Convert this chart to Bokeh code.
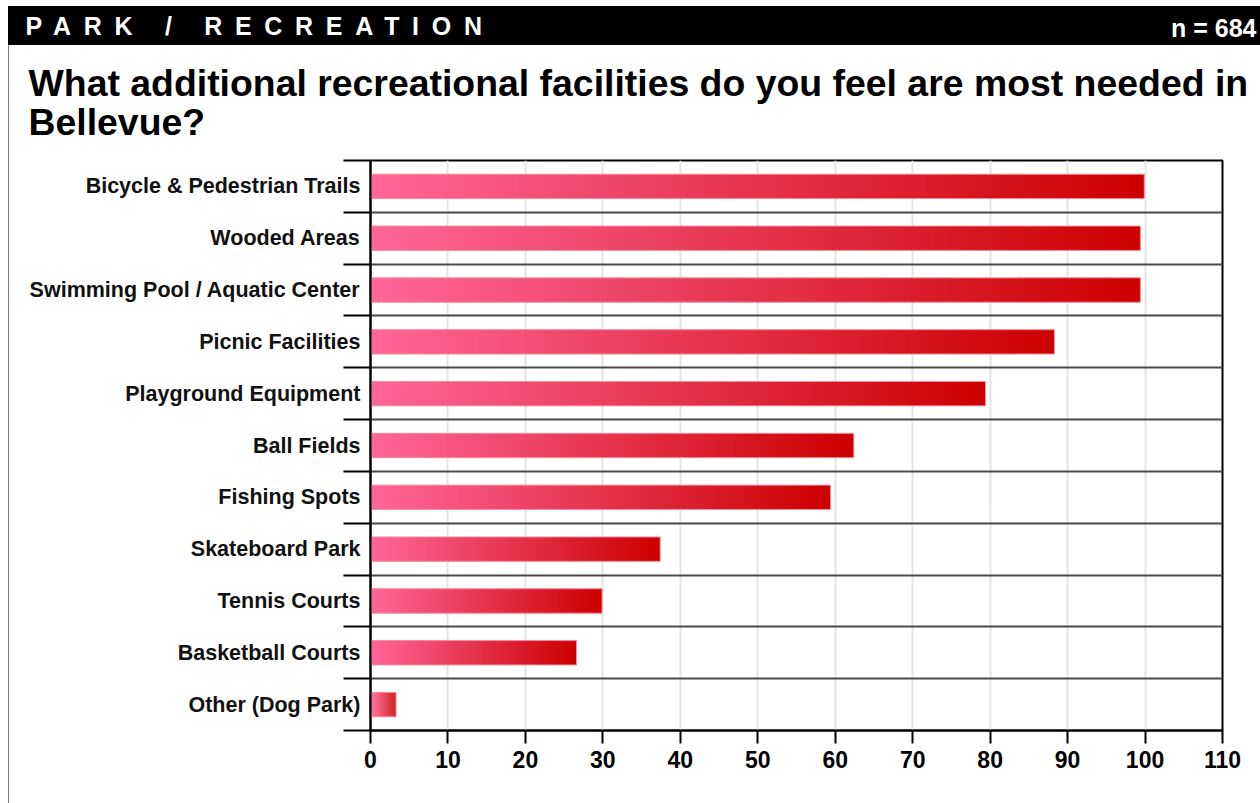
import numpy as np
from bokeh.plotting import figure
from bokeh.layouts import column, row
from bokeh.models import Range1d, FixedTicker, InlineStyleSheet
from bokeh.core.properties import value
from bokeh.embed import file_html
from bokeh.resources import INLINE

# ---------------- data ----------------
section_title = "PARK / RECREATION"
sample_label = "n = 684"
question_lines = [
    "What additional recreational facilities do you feel are most needed in",
    "Bellevue?",
]
categories = [
    "Bicycle & Pedestrian Trails",
    "Wooded Areas",
    "Swimming Pool / Aquatic Center",
    "Picnic Facilities",
    "Playground Equipment",
    "Ball Fields",
    "Fishing Spots",
    "Skateboard Park",
    "Tennis Courts",
    "Basketball Courts",
    "Other (Dog Park)",
]
values = [99.9, 99.4, 99.4, 88.3, 79.4, 62.4, 59.4, 37.4, 29.9, 26.6, 3.3]
x_ticks = [0, 10, 20, 30, 40, 50, 60, 70, 80, 90, 100, 110]

# ---------------- style ----------------
FONT = "Liberation Sans"
W = 1252
HDR_H = 39
TITLE_H = 112
MAIN_H = 797 - HDR_H - TITLE_H
HDR_SPLIT = 800
GRAD_START = np.array([255, 102, 153])
GRAD_END = np.array([204, 0, 0])
BAR_H = 0.47
N_SLICES = 120

left_border_css = InlineStyleSheet(css=":host { box-shadow: inset 1px 0 0 #7a7a7a; }")


def bare(width, height, xr, yr, bg):
    f = figure(width=width, height=height, x_range=xr, y_range=yr,
               output_backend="svg", toolbar_location=None,
               x_axis_location=None, y_axis_location=None,
               min_border=0, outline_line_color=None,
               background_fill_color=bg, border_fill_color=bg)
    f.grid.visible = False
    return f


# ---------------- header bar ----------------
hdr_l = bare(HDR_SPLIT, HDR_H, Range1d(0, HDR_SPLIT), Range1d(HDR_H, 0), "black")
hdr_l.styles = {"letter-spacing": "12.7px"}
hdr_l.text(x=[17], y=[19], text=[section_title], text_color="white",
           text_font=value(FONT), text_font_style="bold", text_font_size="25px",
           text_align="left", text_baseline="alphabetic")

hdr_r = bare(W - HDR_SPLIT, HDR_H, Range1d(0, W - HDR_SPLIT), Range1d(HDR_H, 0), "black")
hdr_r.text(x=[W - HDR_SPLIT - 4], y=[21], text=[sample_label], text_color="white",
           text_font=value(FONT), text_font_style="bold", text_font_size="25px",
           text_align="right", text_baseline="alphabetic")

# ---------------- question title ----------------
tfig = bare(W, TITLE_H, Range1d(0, W), Range1d(TITLE_H, 0), "white")
tfig.background_fill_alpha = 0
tfig.border_fill_alpha = 0
tfig.stylesheets = [left_border_css]
tfig.text(x=[20, 20], y=[37, 76], text=question_lines, text_color="black",
          text_font=value(FONT), text_font_style="bold", text_font_size="37.4px",
          text_align="left", text_baseline="alphabetic")

# ---------------- main chart ----------------
n = len(categories)
p = figure(width=W, height=MAIN_H,
           x_range=Range1d(0, 110), y_range=Range1d(n + 0.5, 0.5),
           output_backend="svg", toolbar_location=None,
           min_border_left=362, min_border_right=38,
           min_border_top=3, min_border_bottom=73,
           outline_line_color="black", outline_line_width=2,
           background_fill_color="white")
p.border_fill_alpha = 0
p.stylesheets = [left_border_css]

centers = list(range(1, n + 1))
boundaries = [c + 0.5 for c in range(0, n + 1)]

# gradient bars built as thin slices of each bar
L, R, B, T, C = [], [], [], [], []
for c, v in zip(centers, values):
    for k in range(N_SLICES):
        frac = k / (N_SLICES - 1)
        rgb = (GRAD_START + (GRAD_END - GRAD_START) * frac).round().astype(int)
        L.append(v * k / N_SLICES)
        R.append(min(v, v * (k + 1.6) / N_SLICES))
        B.append(c - BAR_H / 2)
        T.append(c + BAR_H / 2)
        C.append("#%02x%02x%02x" % tuple(rgb))
p.quad(left=L, right=R, bottom=B, top=T, fill_color=C, line_color=None)
p.hbar(y=centers, left=0, right=values, height=BAR_H, fill_color=None,
       line_color="#f0909f", line_width=1)

# x axis
p.xaxis.ticker = FixedTicker(ticks=x_ticks)
p.xaxis.major_tick_out = 13
p.xaxis.major_tick_in = 0
p.xaxis.major_tick_line_width = 2
p.xaxis.major_tick_line_color = "black"
p.xaxis.minor_tick_line_color = None
p.xaxis.axis_line_width = 2
p.xaxis.axis_line_color = "black"
p.xaxis.major_label_standoff = 7
p.xaxis.major_label_text_font = FONT
p.xaxis.major_label_text_font_style = "bold"
p.xaxis.major_label_text_font_size = "23px"
p.xaxis.major_label_text_color = "black"

# y axis: labels at row centres, separator ticks at row boundaries
p.yaxis.ticker = FixedTicker(ticks=centers, minor_ticks=boundaries)
p.yaxis.major_label_overrides = {c: lab for c, lab in zip(centers, categories)}
p.yaxis.major_tick_out = 0
p.yaxis.major_tick_in = 0
p.yaxis.major_tick_line_color = None
p.yaxis.minor_tick_out = 27
p.yaxis.minor_tick_in = 0
p.yaxis.minor_tick_line_width = 2
p.yaxis.minor_tick_line_color = "black"
p.yaxis.axis_line_width = 2
p.yaxis.axis_line_color = "black"
p.yaxis.major_label_standoff = -17
p.yaxis.major_label_text_font = FONT
p.yaxis.major_label_text_font_style = "bold"
p.yaxis.major_label_text_font_size = "21.5px"
p.yaxis.major_label_text_color = "#111111"

# grids
p.xgrid.ticker = FixedTicker(ticks=x_ticks)
p.xgrid.grid_line_color = "#e4e4e4"
p.xgrid.grid_line_width = 2
p.ygrid.ticker = FixedTicker(ticks=boundaries[1:-1])
p.ygrid.grid_line_color = "#4a4a4a"
p.ygrid.grid_line_width = 2

header = row(hdr_l, hdr_r, spacing=0, styles={"background-color": "black"})
layout = column(header, row(tfig), row(p), spacing=0, margin=(6, 0, 0, 8))

open("out.html", "w").write(file_html(layout, INLINE))
